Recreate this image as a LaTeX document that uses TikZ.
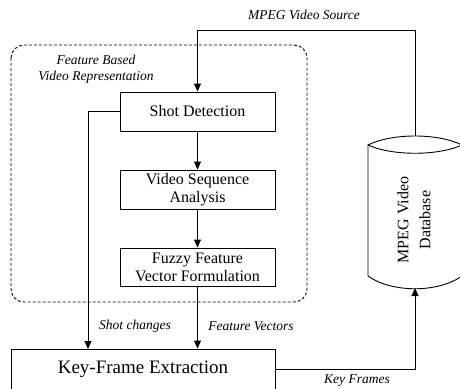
\documentclass[tikz,border=0pt]{standalone}
\usepackage{fontspec}
\setmainfont{Liberation Serif}
\usetikzlibrary{arrows.meta}
\begin{document}
\begin{tikzpicture}[x=1pt,y=-1pt,
  proc/.style={draw,line width=0.9pt,minimum width=155pt,minimum height=39pt,align=center,inner sep=1pt,font=\fontsize{16}{18}\selectfont},
  lbl/.style={font=\fontsize{13.5}{16}\itshape,align=center,inner sep=0pt},
  conn/.style={line width=0.9pt,-{Triangle[length=8pt,width=7pt]}},
  plain/.style={line width=0.9pt}]
\clip (0,0) rectangle (460,388);
\fill[white] (0,0) rectangle (460,388);
% dashed group
\draw[dash pattern=on 3pt off 2pt,line width=0.9pt,rounded corners=13pt] (11,45) rectangle (307,302);
\node[lbl] (fbvr) at (96,69) {Feature Based\\Video Representation};
% processes
\node[proc] (sd) at (197.5,111.5) {Shot Detection};
\node[proc] (vsa) at (197.5,189.5) {Video Sequence\\Analysis};
\node[proc,minimum height=38pt] (ff) at (197.5,267) {Fuzzy Feature\\Vector Formulation};
\node[draw,line width=0.9pt,minimum width=264pt,minimum height=40pt,inner sep=1pt,font=\fontsize{19}{21}\selectfont] (kf) at (143,369) {Key-Frame Extraction};
% database cylinder
\draw[line width=0.9pt,fill=white] (368,145) .. controls (392,133) and (438,133) .. (462,145)
  -- (462,276) .. controls (438,293) and (392,293) .. (368,276) -- cycle;
\draw[line width=0.9pt] (368,145) .. controls (392,156) and (438,156) .. (462,145);
\node[rotate=90,align=center,inner sep=0pt,font=\fontsize{16}{22}\selectfont] (db) at (414,220) {MPEG Video\\Database};
\coordinate (dbtop) at (415,136);
\coordinate (dbbot) at (415,288);
\coordinate (src) at (415,30);
\coordinate (sc) at (88,349);
% connectors
\draw[conn] (dbtop) -- (src) -| (sd.north);
\draw[conn] (sd) -- (vsa);
\draw[conn] (vsa) -- (ff);
\draw[conn] (sd.west) -| (sc);
\draw[conn] (ff.south) -- (ff.south |- kf.north);
\draw[conn] (kf.east) -| (dbbot);
% labels
\node[lbl] (l1) at (304,15) {MPEG Video Source};
\node[lbl] (l2) at (135,326) {Shot changes};
\node[lbl] (l3) at (251,326) {Feature Vectors};
\node[lbl] (l4) at (357,381) {Key Frames};
\end{tikzpicture}
\end{document}
